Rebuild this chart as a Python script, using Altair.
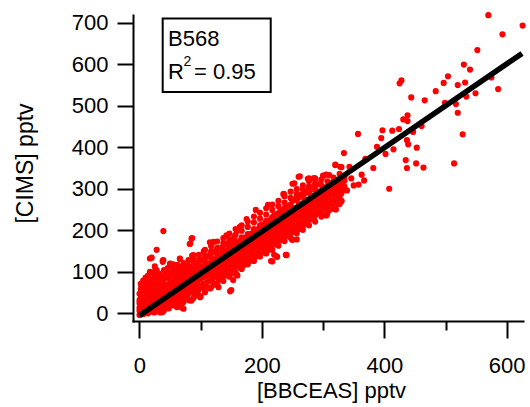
import altair as alt
import pandas as pd

# ---- data ----
# dense band (core): x value and the y values stacked at that x
band_x = [0, 3, 6, 10, 14, 18, 22, 26, 30, 34, 38, 42, 46, 50, 54, 58, 62, 66, 70, 74,
          78, 82, 86, 90, 95, 100, 105, 110, 115, 120, 125, 130, 135, 140, 145, 150, 155,
          160, 165, 170, 175, 180, 185, 190, 195, 200, 205, 210, 215, 220, 225, 230, 235,
          240, 245, 250, 255, 260, 265, 270, 275, 280, 285, 290, 295, 300, 305, 310, 315,
          320, 325, 330, 335]
band_y = [
    [-4, 6, 13, 24, 31, 47],
    [1, 9, 19, 33, 41, 52, 64],
    [-2, 11, 16, 27, 38, 54, 69, 79],
    [2, 7, 14, 26, 36, 46, 61, 73, 86],
    [0, 12, 21, 29, 44, 53, 67, 91],
    [4, 9, 17, 24, 37, 43, 59, 74, 99],
    [6, 19, 27, 39, 48, 63, 81],
    [4, 13, 24, 31, 44, 53, 69, 94, 105],
    [14, 27, 34, 47, 56, 72, 84],
    [2, 19, 26, 39, 46, 62, 76, 91],
    [18, 31, 41, 49, 64, 77, 127],
    [11, 23, 37, 44, 57, 66, 86, 101],
    [27, 39, 46, 59, 68, 89, 109],
    [21, 31, 44, 51, 64, 74, 96, 119],
    [33, 46, 53, 67, 76, 99, 114],
    [26, 38, 52, 59, 74, 83, 106],
    [16, 41, 54, 61, 73, 81, 97, 117],
    [34, 49, 56, 69, 77, 92, 104, 131],
    [13, 48, 62, 69, 82, 91, 111],
    [41, 53, 67, 74, 87, 97, 116],
    [44, 59, 66, 79, 86, 102, 119],
    [31, 51, 64, 71, 84, 91, 107, 167],
    [54, 67, 74, 88, 95, 112, 139, 181],
    [42, 59, 72, 79, 92, 99, 117],
    [49, 66, 73, 87, 94, 107, 121],
    [41, 67, 82, 89, 102, 109, 127],
    [61, 71, 87, 94, 107, 114, 131, 149],
    [74, 89, 96, 110, 117, 136],
    [61, 79, 94, 101, 114, 121, 141, 171],
    [74, 87, 96, 109, 116, 129, 146],
    [69, 89, 104, 111, 124, 131, 151],
    [81, 94, 109, 116, 129, 137, 156],
    [84, 102, 111, 124, 131, 144, 159],
    [91, 104, 119, 126, 139, 147, 166],
    [94, 112, 121, 134, 141, 154, 169],
    [56, 99, 117, 126, 139, 146, 159, 174],
    [96, 109, 124, 131, 144, 151, 164, 184],
    [91, 116, 126, 139, 146, 159, 167, 199],
    [109, 121, 134, 141, 154, 161, 176, 207],
    [116, 124, 139, 146, 159, 166, 181],
    [119, 131, 141, 154, 161, 174, 184, 227],
    [126, 134, 149, 156, 169, 176, 191],
    [129, 141, 151, 164, 171, 184, 194],
    [136, 144, 159, 166, 179, 186, 201, 249],
    [139, 151, 161, 174, 181, 194, 204],
    [146, 154, 169, 176, 189, 196, 213],
    [149, 161, 171, 184, 191, 204, 217],
    [151, 164, 179, 186, 199, 206, 223, 261],
    [126, 159, 171, 181, 194, 201, 214, 227],
    [141, 166, 174, 189, 196, 209, 216, 236],
    [136, 169, 181, 191, 204, 211, 224, 239],
    [176, 184, 199, 206, 219, 226, 246],
    [179, 191, 201, 214, 221, 234, 249, 287],
    [141, 186, 194, 209, 216, 229, 236, 256],
    [189, 201, 211, 224, 231, 244, 259],
    [177, 196, 204, 219, 226, 239, 249, 271, 312],
    [201, 209, 224, 231, 244, 254, 276],
    [203, 216, 226, 239, 246, 261, 279, 329],
    [207, 219, 234, 241, 254, 264, 286],
    [214, 226, 236, 249, 256, 271, 289],
    [219, 229, 244, 251, 264, 274, 296, 324],
    [227, 236, 246, 259, 266, 281, 299],
    [231, 239, 254, 261, 274, 284, 306, 326],
    [244, 259, 266, 279, 289, 311],
    [241, 249, 264, 271, 284, 294],
    [254, 269, 276, 289, 299, 332],
    [237, 259, 274, 281, 294, 304, 334],
    [249, 264, 279, 286, 299, 309],
    [269, 284, 291, 304, 314],
    [251, 274, 289, 296, 309, 319, 357],
    [263, 284, 297, 304, 316],
    [271, 289, 302, 309, 323, 352],
    [297, 305, 319, 329],
]

# dense band (outer part), columns in between the core ones
edge_x = [2, 8, 16, 24, 32, 40, 48, 56, 64, 72, 80, 88, 97, 107, 117, 127, 137, 147,
          157, 167, 177, 187, 197, 207, 217, 227, 237, 247, 257, 267, 277, 287, 297,
          307, 317, 327]
edge_y = [
    [8, 22, 37, 58, 71],
    [3, 17, 33, 49, 62, 77],
    [6, 23, 39, 57, 78, 84],
    [2, 14, 35, 52, 66, 88],
    [9, 21, 42, 66, 81, 96],
    [7, 28, 53, 72, 88, 104],
    [12, 24, 36, 63, 84, 97],
    [19, 31, 47, 71, 92, 103],
    [21, 37, 58, 86, 101, 113],
    [27, 38, 63, 94, 108, 121],
    [33, 47, 71, 97, 114, 128],
    [36, 52, 79, 108, 124, 134],
    [43, 58, 86, 113, 129, 141],
    [51, 66, 96, 124, 138, 153],
    [62, 78, 104, 133, 149, 162],
    [71, 86, 118, 143, 158, 173],
    [78, 93, 127, 152, 169, 181],
    [88, 103, 134, 163, 178, 192],
    [99, 112, 146, 172, 189, 203],
    [107, 121, 153, 183, 199, 212],
    [118, 131, 166, 191, 208, 221],
    [126, 139, 173, 203, 219, 233],
    [137, 148, 183, 212, 228, 242],
    [144, 159, 194, 223, 238, 253],
    [153, 167, 203, 231, 249, 262],
    [163, 178, 213, 241, 258, 271],
    [174, 187, 224, 253, 267, 282],
    [182, 198, 233, 262, 278, 293],
    [193, 206, 243, 273, 287, 299],
    [201, 217, 254, 281, 298, 308],
    [212, 226, 263, 291, 306, 318],
    [221, 236, 274, 299, 314],
    [233, 246, 282, 309, 322],
    [242, 257, 293, 318],
    [254, 266, 302, 327],
    [263, 281, 313, 336],
]

# scattered points outside the dense band
scatter_x = [570, 626, 593, 552, 530, 540, 504, 497, 520, 532, 428, 425, 484, 466, 444,
             499, 517, 534, 549, 586, 575, 520, 528, 514, 464, 452, 437, 435, 453, 439,
             437, 447, 461, 438, 431, 438, 424, 413, 397, 395, 388, 402, 415, 357, 334,
             369, 382, 408, 320, 328, 343, 346, 363, 367, 358, 350, 262, 253, 277, 287,
             300, 310, 236,
             217, 239, 224, 257, 249, 265, 304, 321, 330, 307, 262, 279, 306, 317, 328,
             339, 240,
             17, 38, 61, 72, 85, 99, 115, 129, 148, 153, 159, 39, 28, 20, 25, 85, 83,
             88, 66, 50, 39, 53, 28, 17, 121, 142, 164, 17, 38, 55]
scatter_y = [718, 693, 672, 634, 599, 587, 571, 555, 550, 556, 561, 554, 535, 513, 520,
             507, 504, 522, 530, 540, 568, 483, 431, 361, 351, 361, 350, 369, 399, 407,
             417, 437, 451, 477, 467, 463, 444, 440, 441, 422, 401, 384, 395, 432, 386,
             372, 350, 300, 358, 353, 353, 325, 334, 320, 310, 308, 330, 313, 325, 325,
             331, 333, 288,
             125, 141, 137, 178, 178, 206, 236, 250, 270, 248, 204, 228, 236, 252, 272,
             296, 140,
             7, 3, 15, 11, 31, 39, 60, 63, 53, 80, 92, 198, 153, 134, 113, 180, 168,
             140, 132, 120, 128, 113, 104, 100, 172, 188, 208, 132, 124, 118]

fit_x = [0, 625]
fit_y = [-5, 626]

x_ticks = [0, 100, 200, 300, 400, 500, 600]
y_ticks = [0, 100, 200, 300, 400, 500, 600, 700]

# ---- build tables ----
rows = []
for cols_x, cols_y in ((band_x, band_y), (edge_x, edge_y)):
    for bx, ys in zip(cols_x, cols_y):
        for by in ys:
            rows.append({"x": bx, "y": by})
for sx, sy in zip(scatter_x, scatter_y):
    rows.append({"x": sx, "y": sy})
pts = pd.DataFrame(rows)
fit = pd.DataFrame({"x": fit_x, "y": fit_y})

FONT = "Liberation Sans"
xs = alt.Scale(domain=[-10.6, 626.6], nice=False, zero=False)
ys_ = alt.Scale(domain=[-18.5, 718.5], nice=False, zero=False)

x_axis = alt.Axis(
    values=x_ticks, grid=False, title="[BBCEAS] pptv",
    labelExpr="datum.value % 200 === 0 ? datum.label : ''",
    tickSize={"condition": {"test": "datum.value % 200 === 0", "value": 17}, "value": 9},
    labelPadding=17, titleX=198, titleY=76, titleBaseline="alphabetic",
    titleAnchor="middle", titleAlign="center", titleFontSize=22,
)
y_axis = alt.Axis(
    values=y_ticks, grid=False, title="[CIMS] pptv", tickSize=16, labelPadding=9,
    titleX=-101, titleY=148, titleAngle=270, titleBaseline="alphabetic",
    titleAlign="center",
)

points = alt.Chart(pts).mark_circle(size=38, color="#ff0000", opacity=1).encode(
    x=alt.X("x:Q", scale=xs, axis=x_axis),
    y=alt.Y("y:Q", scale=ys_, axis=y_axis),
)
line = alt.Chart(fit).mark_line(color="black", strokeWidth=5.5).encode(
    x=alt.X("x:Q", scale=xs), y=alt.Y("y:Q", scale=ys_)
)

box_df = pd.DataFrame({"x1": [37.9], "x2": [214.4], "y1": [533], "y2": [710]})
box = alt.Chart(box_df).mark_rect(fill="white", stroke="black", strokeWidth=2).encode(
    x=alt.X("x1:Q", scale=xs), x2="x2:Q", y=alt.Y("y1:Q", scale=ys_), y2="y2:Q"
)

big_df = pd.DataFrame({"x": [46.6, 46.6, 89.0], "y": [643, 564, 564],
                       "t": ["B568", "R", "= 0.95"]})
big_txt = alt.Chart(big_df).mark_text(
    align="left", baseline="alphabetic", font=FONT, fontSize=22, color="black"
).encode(x=alt.X("x:Q", scale=xs), y=alt.Y("y:Q", scale=ys_), text="t:N")

sup_df = pd.DataFrame({"x": [72.0], "y": [595], "t": ["2"]})
sup_txt = alt.Chart(sup_df).mark_text(
    align="left", baseline="alphabetic", font=FONT, fontSize=14, color="black"
).encode(x=alt.X("x:Q", scale=xs), y=alt.Y("y:Q", scale=ys_), text="t:N")

chart = alt.layer(points, line, box, big_txt, sup_txt).properties(
    width=390, height=306,
    background="white",
    autosize=alt.AutoSizeParams(type="none"),
    padding={"left": 133, "top": 15, "right": 7, "bottom": 86},
).configure_view(stroke=None).configure_axis(
    domainColor="black", domainWidth=2, tickColor="black", tickWidth=2,
    labelColor="black", labelFont=FONT, labelFontSize=22,
    titleColor="black", titleFont=FONT, titleFontSize=23, titleFontWeight="normal",
    domainCap="square",
)

chart.save("out.html", embed_options={"renderer": "svg", "actions": False})
